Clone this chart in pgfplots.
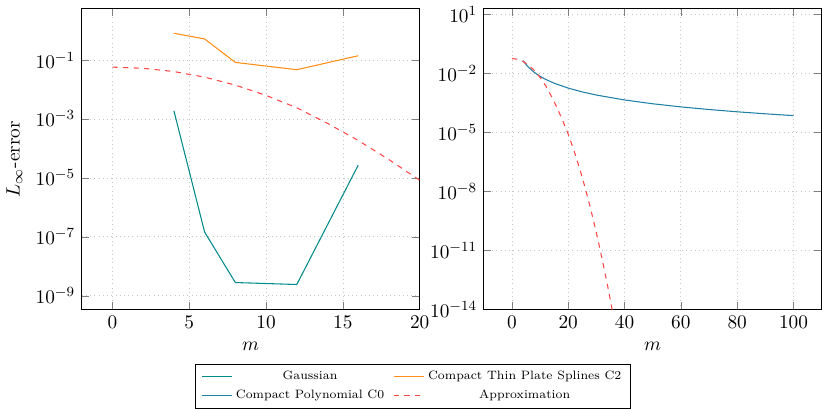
\documentclass[border=0pt,11pt]{standalone}
\usepackage{pgfplots}
\pgfplotsset{compat=1.18}
\definecolor{cgauss}{RGB}{0,138,138}
\definecolor{ctps}{RGB}{255,140,20}
\definecolor{cpoly}{RGB}{30,128,165}
\definecolor{capprox}{RGB}{255,70,70}
\pgfplotsset{
  every axis/.append style={
    scale only axis, width=192pt, height=171pt,
    ymode=log, grid=major,
    major grid style={dotted, gray!45},
    tick style={gray},
    yminorticks=false,
    xlabel={$m$},
  }
}
\begin{document}
\begin{tikzpicture}
\begin{axis}[
  name=left,
  xmin=-2, xmax=20, ymin=3.4e-10, ymax=5.6,
  xtick={0,5,10,15,20},
  ytick={1e-9,1e-7,1e-5,1e-3,1e-1},
  ylabel={$L_\infty$-error},
  legend columns=2,
  legend cell align=center,
  legend image post style={line width=0.8pt},
  legend style={at={(0.98,-0.18)}, anchor=north, font=\fontsize{6.9}{9}\selectfont, draw=black,
    /tikz/every even column/.append style={column sep=3pt}},
]
\addplot[cgauss, line width=0.6pt] coordinates {
  (4,1.9e-3) (6,1.45e-7) (8,2.8e-9) (12,2.4e-9) (16,2.7e-5)};
\addlegendentry{Gaussian}
\addplot[ctps, line width=0.6pt] coordinates {
  (4,0.81) (6,0.52) (8,0.083) (12,0.047) (16,0.14)};
\addlegendentry{Compact Thin Plate Splines C2}
\addlegendimage{cpoly, line width=0.6pt}
\addlegendentry{Compact Polynomial C0}
\addplot[capprox, dashed, line width=0.6pt] coordinates {
  (0,0.0575) (2,0.0525) (4,0.0407) (6,0.0263) (8,0.0141) (10,0.00631)
  (12,0.0024) (14,7.08e-4) (16,1.86e-4) (18,4.17e-5) (20,8.32e-6)};
\addlegendentry{Approximation}
\end{axis}
\begin{axis}[
  at={(left.north west)}, anchor=north west, xshift=228.4pt,
  xmin=-10, xmax=110, ymin=1e-14, ymax=20,
  xtick={0,20,40,60,80,100},
  ytick={1e-14,1e-11,1e-8,1e-5,1e-2,1e1},
]
\addplot[cpoly, line width=0.6pt] coordinates {
  (4,0.045) (5,0.0288) (6,0.02) (8,0.01125) (10,0.0072) (12,0.005)
  (15,0.0032) (20,0.0018) (25,0.001152) (30,0.0008) (40,0.00045)
  (50,0.000288) (60,0.0002) (70,0.000147) (80,0.0001125) (90,0.0000889)
  (100,0.000072)};
\addplot[capprox, dashed, line width=0.6pt] coordinates {
  (0,0.0575) (2,0.0525) (4,0.0407) (6,0.0263) (8,0.0141) (10,0.00631)
  (12,0.0024) (14,7.08e-4) (16,1.86e-4) (18,4.17e-5) (20,8.32e-6)
  (22,1.26e-6) (24,1.58e-7) (26,1.58e-8) (28,1.26e-9) (30,7.94e-11)
  (32,3.98e-12) (34,1.58e-13) (36,5.01e-15) (38,1.26e-16)};
\end{axis}
\end{tikzpicture}
\end{document}
